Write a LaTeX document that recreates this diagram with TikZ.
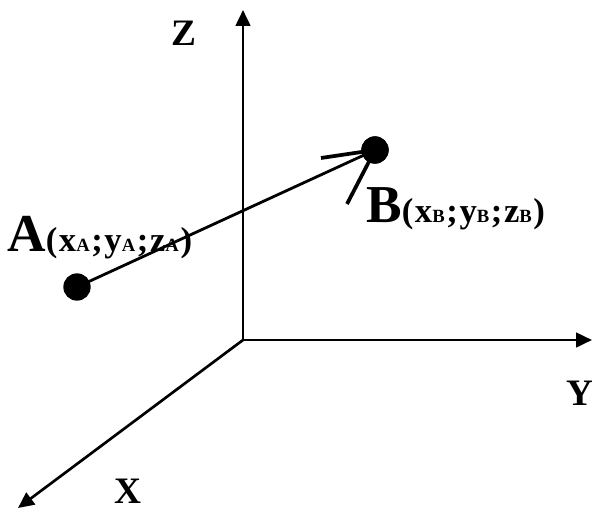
\documentclass[tikz,border=0pt]{standalone}
\usepackage{fontspec}
\setmainfont{Liberation Serif}
\usetikzlibrary{arrows.meta}
\newcommand{\gapsp}{\hspace{1.2pt}}
\newcommand{\mysub}[1]{{\fontsize{14}{14}\selectfont #1}}
\newcommand{\coordlabel}[2]{{\fontsize{40}{40}\selectfont #1}{\fontsize{26}{26}\selectfont (\gapsp x\mysub{#2}\gapsp;\gapsp y\mysub{#2}\gapsp;\gapsp z\mysub{#2}\gapsp)}}
\tikzset{
  axis/.style={line width=2pt,-{Triangle[length=12pt,width=11pt]}},
  pt/.style={circle,fill=black,inner sep=0pt,minimum size=20.5pt},
  lbl/.style={font=\bfseries,inner sep=0pt,anchor=base west},
  axlbl/.style={font=\bfseries\fontsize{28}{28}\selectfont,inner sep=0pt,anchor=base west,text depth=0pt},
  conn/.style={line width=2.1pt},
  head/.style={line width=2.8pt}
}
\begin{document}
\begin{tikzpicture}[x=0.75pt,y=-0.75pt]
\useasboundingbox (0,0) rectangle (592,510);
\coordinate (O) at (243,340);
\coordinate (Zt) at (243,10);
\coordinate (Yt) at (592,340);
\coordinate (Xt) at (18,508);
\draw[axis] (O) -- (Zt);
\draw[axis] (O) -- (Yt);
\draw[axis] (O) -- (Xt);
\node[axlbl] (zl) at (171,46) {Z};
\node[axlbl] (yl) at (566,405) {Y};
\node[axlbl] (xl) at (114,503) {X};
\node[pt] (A) at (77,287) {};
\node[pt] (B) at (375,150) {};
\draw[conn] (A.center) -- (B.center);
\coordinate (h1) at (321,158);
\coordinate (h2) at (347,204);
\draw[head] (h1) -- (B.center);
\draw[head] (h2) -- (B.center);
\node[pt] at (B) {};
\node[lbl] (la) at (7,251) {\coordlabel{A}{A}};
\node[lbl] (lb) at (366,222) {\coordlabel{B}{B}};
\end{tikzpicture}
\end{document}
